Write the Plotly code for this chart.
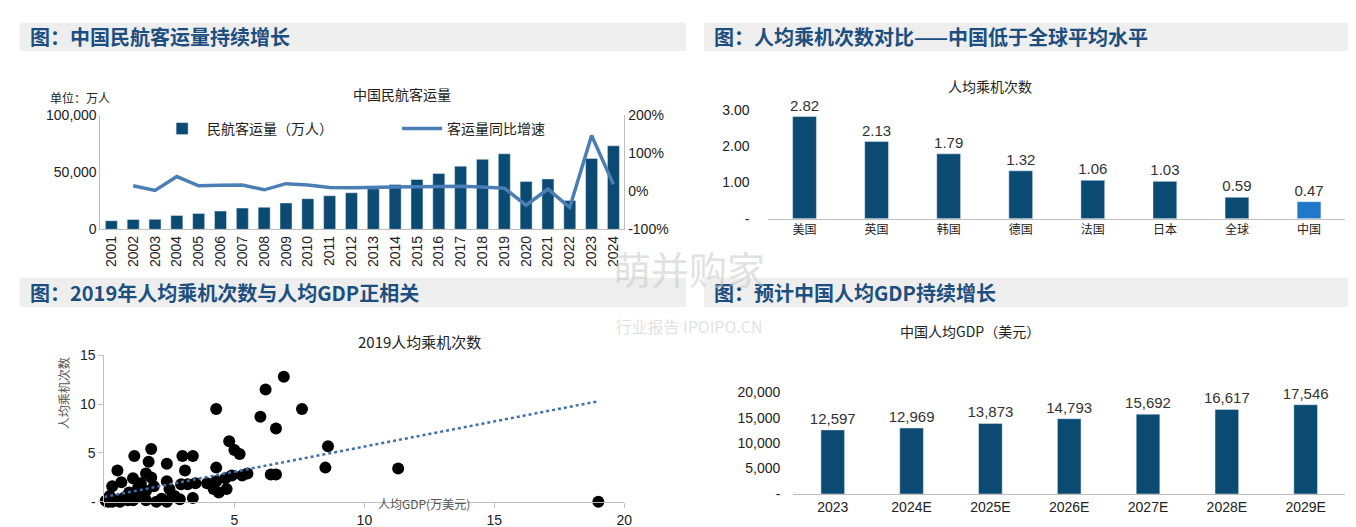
import plotly.graph_objects as go

W, H = 1356, 527
CJK = "Noto Sans CJK SC"
NUM = "Liberation Sans, Arial"
DARK = "#0b4a72"
LINE = "#4a7eb5"
HEAD = "#1c4f80"

years = [str(y) for y in range(2001, 2025)]
passengers = [7524, 8594, 8759, 12123, 13827, 15968, 18576, 19251, 23052, 26769, 29317, 31936,
              35397, 39195, 43618, 48796, 55156, 61174, 65993, 41778, 44056, 25171, 61957, 73000]
growth = [None, 14.2, 1.9, 38.4, 14.0, 15.5, 16.3, 3.6, 19.7, 16.1, 9.5, 8.9,
          10.8, 10.7, 11.3, 11.9, 13.0, 10.9, 7.9, -36.7, 5.5, -42.9, 146.1, 17.9]

countries = ["美国", "英国", "韩国", "德国", "法国", "日本", "全球", "中国"]
trips = [2.82, 2.13, 1.79, 1.32, 1.06, 1.03, 0.59, 0.47]

gdp_x = [6.9, 6.2, 7.6, 4.3, 6.0, 6.6, 4.8, 5.0, 5.2, 8.6, 8.5, 11.3, 19.0, 4.3, 5.5, 5.3, 6.4, 6.6,
         4.9, 4.65, 4.3, 3.95, 4.2, 4.4, 4.7, 3.0, 3.4, 3.1, 3.5, 3.2, 2.95, 3.4, 2.9, 2.4, 2.4, 2.5,
         2.4, 2.6, 2.0, 1.8, 1.7, 1.6, 1.8, 1.9, 1.15, 0.5, 1.1, 0.65, 0.3, 1.4, 1.6, 1.25, 0.95, 0.8,
         0.45, 0.15, 0.3, 0.6, 0.9, 1.4, 1.6, 0.2, 1.1, 0.05, 0.7, 1.0, 1.3, 2.2, 2.7]
trips_2019 = [12.8, 11.5, 9.5, 9.5, 8.7, 7.5, 6.2, 5.3, 4.9, 5.7, 3.5, 3.4, 0.0, 3.5, 2.9, 2.7, 2.8, 2.8,
              2.7, 2.4, 2.1, 1.9, 1.3, 0.95, 1.3, 4.7, 4.7, 3.2, 1.9, 1.8, 1.8, 0.4, 0.25, 3.9, 2.1, 1.3,
              0.0, 0.5, 0.0, 5.4, 4.1, 2.9, 2.5, 1.6, 4.7, 3.2, 2.4, 2.0, 1.6, 1.9, 1.1, 0.8, 0.95, 0.5,
              0.15, 0.0, 0.0, 0.0, 0.15, 0.5, 0.15, 0.6, 0.15, 0.1, 0.3, 0.4, 1.5, 0.3, 0.6]
trend_x = [0, 19.0]
trend_y = [0.5, 10.3]

gdp_years = ["2023", "2024E", "2025E", "2026E", "2027E", "2028E", "2029E"]
gdp_pc = [12597, 12969, 13873, 14793, 15692, 16617, 17546]

def px(x): return x / W
def py(y): return 1 - y / H

fig = go.Figure()
fig.add_trace(go.Bar(x=years, y=passengers, marker_color=DARK, width=0.55, name="民航客运量（万人）",
                     xaxis="x", yaxis="y"))
fig.add_trace(go.Scatter(x=years, y=growth, mode="lines", line=dict(color=LINE, width=3.5),
                         name="客运量同比增速", xaxis="x", yaxis="y5"))
fig.add_trace(go.Bar(x=countries, y=trips, marker_color=[DARK]*7 + ["#1f78c8"], width=0.33,
                     text=[f"{v:.2f}" for v in trips], textposition="outside", constraintext="none",
                     textfont=dict(family=NUM, size=15, color="#333"), cliponaxis=False,
                     showlegend=False, xaxis="x2", yaxis="y2"))
fig.add_trace(go.Scatter(x=gdp_x, y=trips_2019, mode="markers", marker=dict(color="black", size=12),
                         cliponaxis=False, showlegend=False, xaxis="x3", yaxis="y3"))
fig.add_trace(go.Scatter(x=trend_x, y=trend_y, mode="lines", line=dict(color="#3f6fa8", width=2.5, dash="dot"),
                         showlegend=False, xaxis="x3", yaxis="y3"))
fig.add_trace(go.Bar(x=gdp_years, y=gdp_pc, marker_color=DARK, width=0.3,
                     text=[f"{v:,}" for v in gdp_pc], textposition="outside", constraintext="none",
                     textfont=dict(family=NUM, size=15, color="#333"), cliponaxis=False,
                     showlegend=False, xaxis="x4", yaxis="y4"))

tf = dict(family=NUM, size=14, color="#222")
cjkf = dict(family=CJK, size=12, color="#222")
axline = dict(showline=True, linecolor="#bfbfbf", linewidth=1)

shapes = []
annotations = []
for x0, x1, y0, y1, t in [(12, 682, 7, 36, "图：中国民航客运量持续增长"),
                          (700, 1356, 7, 36, "图：人均乘机次数对比——中国低于全球平均水平"),
                          (12, 682, 270, 300, "图：2019年人均乘机次数与人均GDP正相关"),
                          (700, 1356, 270, 300, "图：预计中国人均GDP持续增长")]:
    shapes.append(dict(type="rect", xref="paper", yref="paper", x0=px(x0), x1=px(x1), y0=py(y1), y1=py(y0),
                       fillcolor="#eeeeee", line=dict(width=0), layer="below"))
    annotations.append(dict(text=f"<b>{t}</b>", xref="paper", yref="paper", x=px(x0 + 8), y=py((y0 + y1) / 2),
                            xanchor="left", yanchor="middle", showarrow=False,
                            font=dict(family=CJK, size=20, color=HEAD)))

for t, x, y, s in [("中国民航客运量", 345, 68, 14), ("人均乘机次数", 1032, 60, 14),
                   ("2019人均乘机次数", 350, 336, 15), ("中国人均GDP（美元）", 1040, 325, 14)]:
    annotations.append(dict(text=t, xref="paper", yref="paper", x=px(x), y=py(y), showarrow=False,
                            font=dict(family=CJK, size=s, color="#222")))
annotations.append(dict(text="单位：万人", xref="paper", yref="paper", x=px(40), y=py(84), xanchor="left",
                        yanchor="middle", showarrow=False, font=cjkf))
annotations.append(dict(text="人均乘机次数", xref="paper", yref="paper", x=px(45), y=py(428), textangle=-90,
                        showarrow=False, font=dict(family=CJK, size=12, color="#555")))
annotations.append(dict(text="人均GDP(万美元)", xref="paper", yref="paper", x=px(370), y=py(514),
                        showarrow=False, font=dict(family=CJK, size=12, color="#555")))
annotations.append(dict(text="萌并购家<br><span style='font-size:16px'>行业报告 IPOIPO.CN</span>", xref="paper", yref="paper",
                        x=px(685), y=py(282), showarrow=False,
                        font=dict(family=CJK, size=38, color="rgba(200,200,200,0.55)")))

fig.update_layout(
    width=W, height=H, margin=dict(l=0, r=0, t=0, b=0), paper_bgcolor="white", plot_bgcolor="white",
    barmode="group", shapes=shapes, annotations=annotations,
    legend=dict(orientation="h", x=px(150), y=py(100), xanchor="left", yanchor="top",
                font=dict(family=CJK, size=14, color="#222"), bgcolor="rgba(0,0,0,0)", itemwidth=40,
                entrywidth=185),
    xaxis=dict(domain=[px(93), px(620)], anchor="y", tickangle=-90, tickfont=tf, ticks="", **axline),
    yaxis=dict(domain=[py(220), py(102)], anchor="x", range=[0, 100000], tickvals=[0, 50000, 100000],
               ticktext=["0", "50,000", "100,000"], tickfont=tf, showgrid=False, **axline),
    yaxis5=dict(overlaying="y", side="right", anchor="x", range=[-100, 200], tickvals=[-100, 0, 100, 200],
                ticktext=["-100%", "0%", "100%", "200%"], tickfont=tf, showgrid=False, **axline),
    xaxis2=dict(domain=[px(765), px(1345)], anchor="y2", tickfont=cjkf, ticks="", **axline),
    yaxis2=dict(domain=[py(209), py(89.5)], anchor="x2", range=[0, 3.2], tickvals=[0, 1, 2, 3],
                ticktext=["-", "1.00", "2.00", "3.00"], tickfont=tf, showgrid=False, showline=False,
                ticklabelstandoff=18),
    xaxis3=dict(domain=[px(97), px(620)], anchor="y3", range=[0, 20], tickvals=[0, 5, 10, 15, 20],
                ticktext=["", "5", "10", "15", "20"], tickfont=tf, ticks="outside", tickcolor="#bfbfbf",
                showgrid=False, zeroline=False, **axline),
    yaxis3=dict(domain=[py(501), py(350)], anchor="x3", range=[0, 15], tickvals=[0, 5, 10, 15],
                ticktext=["-", "5", "10", "15"], tickfont=tf, showgrid=False, zeroline=False,
                ticks="outside", tickcolor="#bfbfbf", **axline),
    xaxis4=dict(domain=[px(790), px(1345)], anchor="y4", tickfont=tf, ticks="", **axline),
    yaxis4=dict(domain=[py(493), py(388)], anchor="x4", range=[0, 20000], tickvals=[0, 5000, 10000, 15000, 20000],
                ticktext=["-", "5,000", "10,000", "15,000", "20,000"], tickfont=tf, showgrid=False,
                showline=False, ticklabelstandoff=12),
)
fig.write_html("out.html")
